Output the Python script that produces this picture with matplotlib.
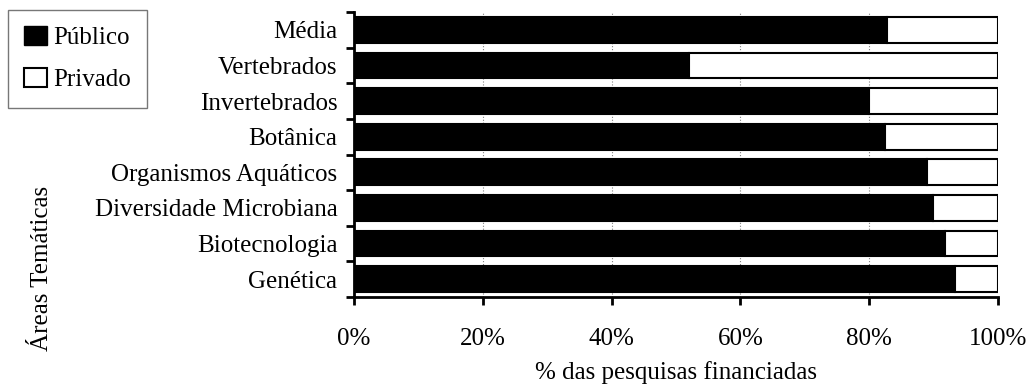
import matplotlib.pyplot as plt
from matplotlib.patches import Patch
import numpy as np

areas = ["Média", "Vertebrados", "Invertebrados", "Botânica",
         "Organismos Aquáticos", "Diversidade Microbiana",
         "Biotecnologia", "Genética"]
publico = [82.8, 52.0, 80.0, 82.5, 88.9, 89.9, 91.8, 93.4]
privado = [100 - p for p in publico]

plt.rcParams['font.family'] = ['Liberation Serif', 'DejaVu Serif']
plt.rcParams['font.size'] = 18

fig = plt.figure(figsize=(10.28, 3.85), dpi=100)
ax = fig.add_axes([354/1028, 1 - 297/385, (998 - 354)/1028, (297 - 12)/385])

y = np.arange(len(areas))
ax.barh(y, publico, height=0.72, color='black', edgecolor='black', linewidth=1.5)
ax.barh(y, privado, left=publico, height=0.72, color='white', edgecolor='black', linewidth=1.5)

ax.set_xlim(0, 100)
ax.set_ylim(len(areas) - 0.5, -0.5)
ax.set_yticks(y)
ax.set_yticklabels(areas)
ax.set_yticks(np.arange(-0.5, len(areas)), minor=True)
ax.tick_params(axis='y', which='major', length=0, pad=12)
ax.tick_params(axis='y', which='minor', length=6, width=2, direction='out')
ax.set_xticks(range(0, 101, 20))
ax.set_xticklabels([f"{v}%" for v in range(0, 101, 20)])
ax.tick_params(axis='x', length=6, width=2, direction='out', pad=16)
ax.grid(axis='x', linestyle=':', color='gray', linewidth=0.8)
ax.set_axisbelow(True)
for s in ['top', 'right']:
    ax.spines[s].set_visible(False)
for s in ['left', 'bottom']:
    ax.spines[s].set_linewidth(2)

ax.set_xlabel("% das pesquisas financiadas", labelpad=8)
fig.text(42/1028, 1 - 268/385, "Áreas Temáticas", rotation=90, ha='center', va='center')

handles = [Patch(facecolor='black', edgecolor='black'),
           Patch(facecolor='white', edgecolor='black', linewidth=1.5)]
leg = fig.legend(handles, ["Público", "Privado"], loc='upper left',
                 bbox_to_anchor=(8/1028, 1 - 10/385), fancybox=False,
                 edgecolor='#555555', handlelength=0.9, handleheight=0.8,
                 handletextpad=0.25, labelspacing=0.75, borderpad=0.65,
                 borderaxespad=0)
leg.get_frame().set_linewidth(1)

fig.savefig("out.png", dpi=100)
